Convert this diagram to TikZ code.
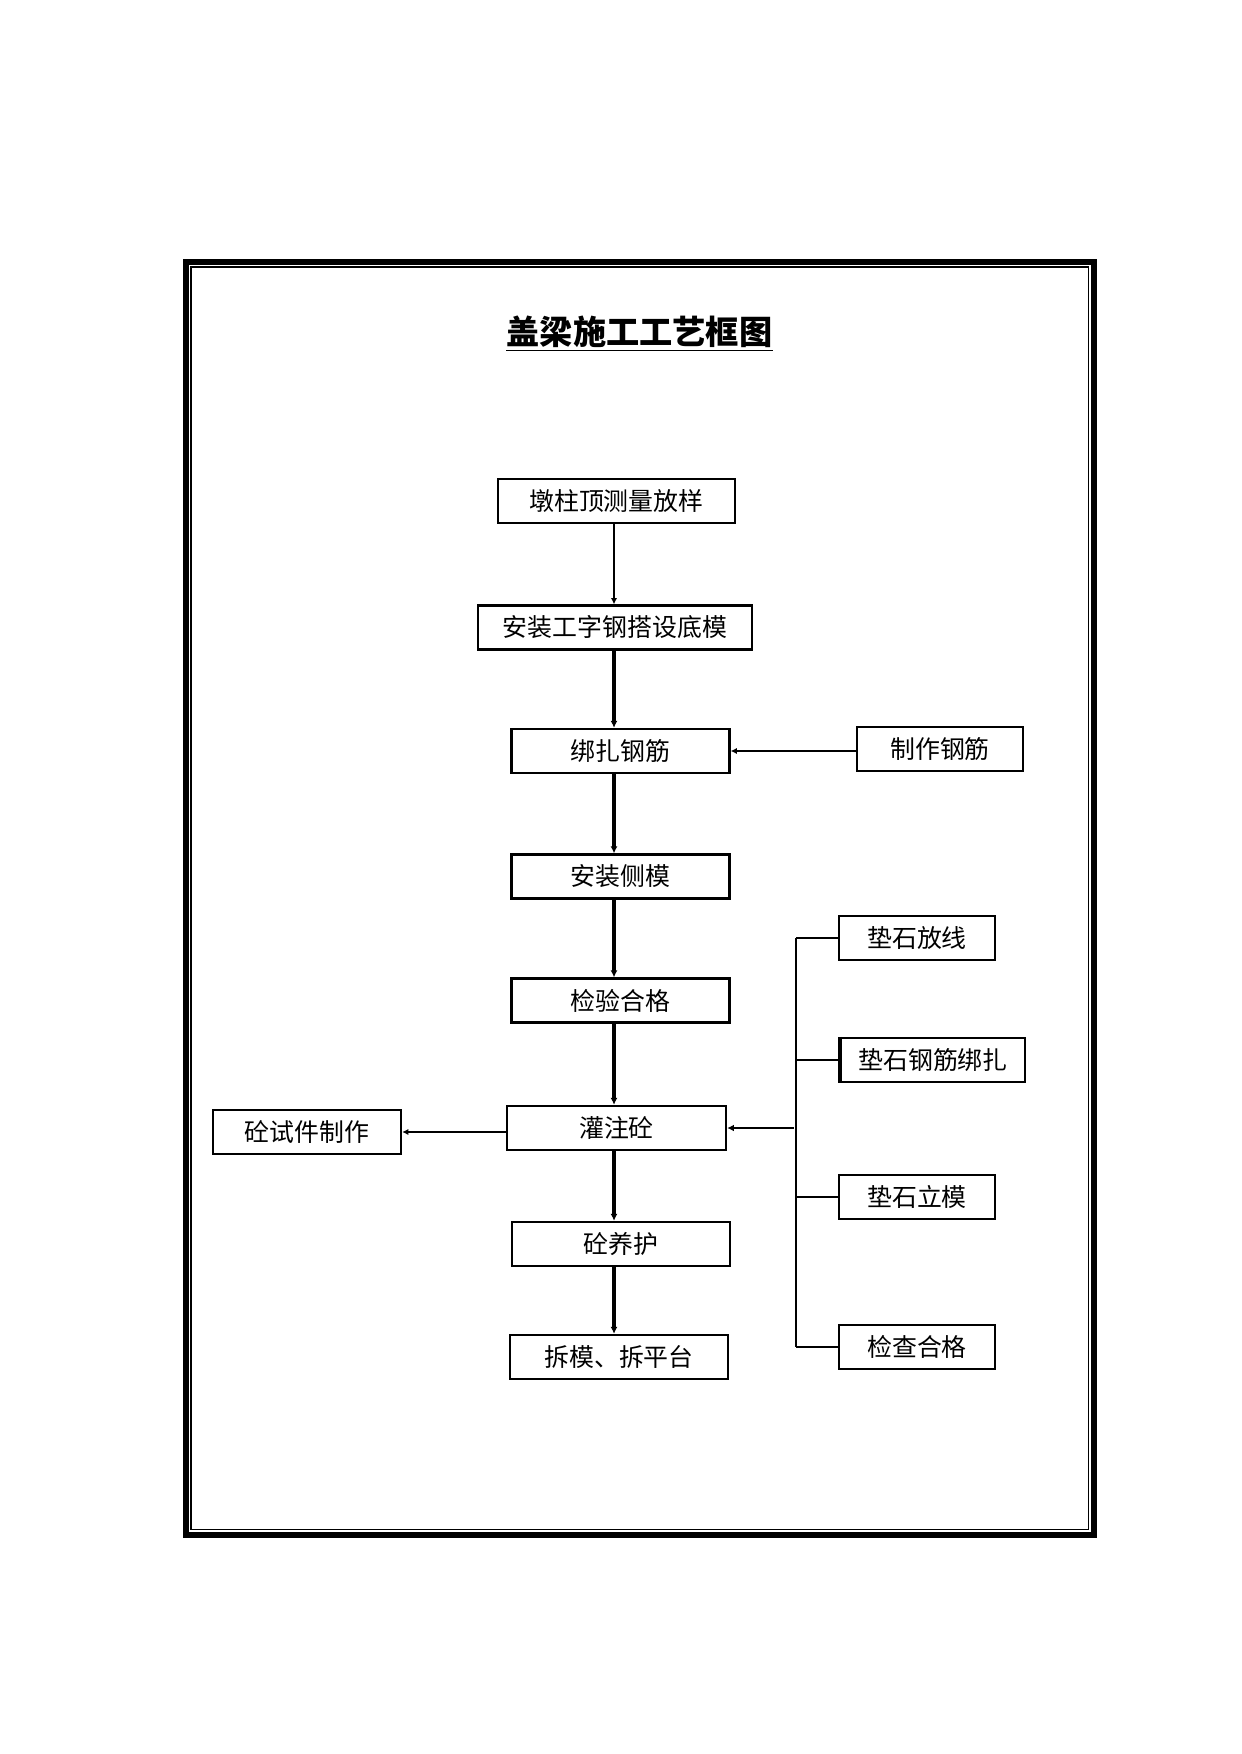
\documentclass[tikz,border=0pt]{standalone}
\usepackage{fontspec}
\setmainfont{Noto Sans CJK SC}
\usetikzlibrary{arrows.meta}
\def\u{0.4818pt}
\begin{document}
\begin{tikzpicture}[x=0.4818pt,y=-0.4818pt,
  box/.style={draw,line width=1.1pt,inner sep=0pt,minimum height=44*\u,font=\fontsize{12}{14}\selectfont},
  thinarr/.style={line width=0.8pt,-{Latex[length=3pt,width=3pt]}},
  thickarr/.style={line width=1.7pt,-{Latex[length=3.4pt,width=3.4pt]}},
  brk/.style={line width=1.1pt},
  brkarr/.style={line width=1.2pt,-{Latex[length=3.2pt,width=3.2pt]}}]
\useasboundingbox (0,0) rectangle (1241,1754);
% frame
\draw[line width=2.9pt] (186,262) rectangle (1094,1535);
\draw[line width=0.75pt] (191,267) rectangle (1088.5,1529.5);
% title
\node (title) [anchor=base,inner sep=0pt,font=\fontsize{16}{18}\bfseries\selectfont] at (639.5,345) {盖梁施工工艺框图};
\draw[line width=0.8pt] ([yshift=-2.6pt]title.base west) -- ([yshift=-2.6pt]title.base east);
% coordinates
\coordinate (mx) at (614,0);
\coordinate (bx) at (796,0);
% main column
\node (b1) [box,minimum width=237*\u] at (616.4,501) {墩柱顶测量放样};
\node (b2) [box,minimum width=274*\u] at (615,627.5) {安装工字钢搭设底模};
\node (b3) [box,minimum width=218*\u] at (620.5,751) {绑扎钢筋};
\node (b4) [box,minimum width=166*\u] at (940,749) {制作钢筋};
\node (b5) [box,minimum width=218*\u] at (620.5,876.5) {安装侧模};
\node (b6) [box,minimum width=218*\u] at (620.5,1000.5) {检验合格};
\node (b7) [box,minimum width=219*\u] at (616.5,1128) {灌注砼};
\node (b8) [box,minimum width=188*\u] at (307,1132) {砼试件制作};
\node (b9) [box,minimum width=218*\u] at (620.7,1244) {砼养护};
\node (b10) [box,minimum width=218*\u] at (619,1357) {拆模、拆平台};
% right column
\node (b11) [box,minimum width=156*\u] at (917,938) {垫石放线};
\node (b12) [box,minimum width=184*\u] at (933,1060) {垫石钢筋绑扎};
\node (b13) [box,minimum width=156*\u] at (917,1197) {垫石立模};
\node (b14) [box,minimum width=156*\u] at (917,1347) {检查合格};
\draw[line width=1.6pt] (b12.north west) -- (b12.south west);
% main arrows
\draw[thinarr] (b1.south -| mx) -- (b2.north -| mx);
\draw[thickarr] (b2.south -| mx) -- (b3.north -| mx);
\draw[thickarr] (b3.south -| mx) -- (b5.north -| mx);
\draw[thickarr] (b5.south -| mx) -- (b6.north -| mx);
\draw[thickarr] (b6.south -| mx) -- (b7.north -| mx);
\draw[thickarr] (b7.south -| mx) -- (b9.north -| mx);
\draw[thickarr] (b9.south -| mx) -- (b10.north -| mx);
% side arrows
\draw[thinarr] (b4.west |- b3) -- (b3.east);
\draw[thinarr] (b7.west |- b8) -- (b8.east);
% bracket
\draw[brk] (bx |- b11) -- (bx |- b14);
\draw[brk] (bx |- b11) -- (b11.west);
\draw[brk] (bx |- b12) -- (b12.west);
\draw[brk] (bx |- b13) -- (b13.west);
\draw[brk] (bx |- b14) -- (b14.west);
\draw[brkarr] ([xshift=-1pt]bx |- b7) -- (b7.east);
\end{tikzpicture}
\end{document}
